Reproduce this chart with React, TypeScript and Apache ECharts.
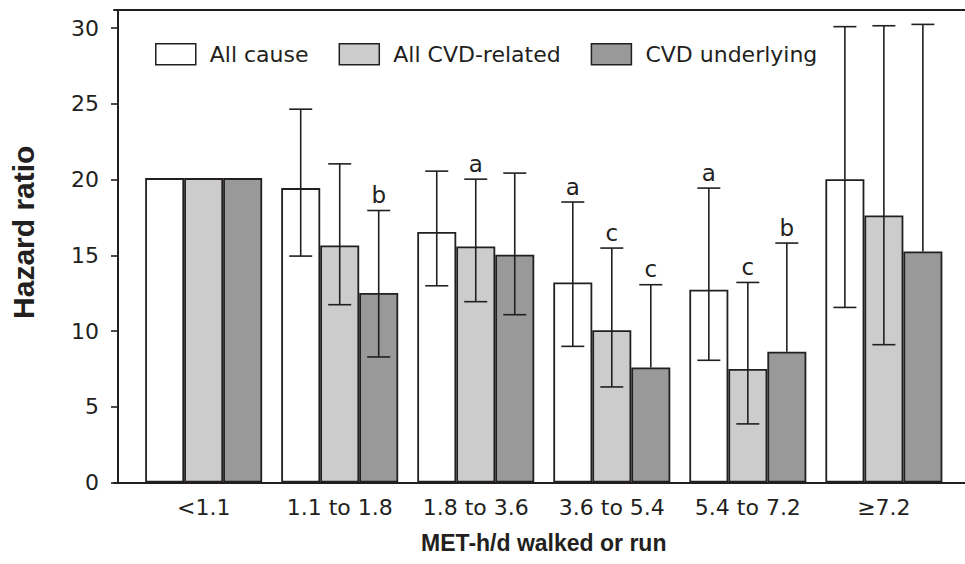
import React, { useEffect, useRef } from "react";
import * as echarts from "echarts";

const categories = ["<1.1", "1.1 to 1.8", "1.8 to 3.6", "3.6 to 5.4", "5.4 to 7.2", "≥7.2"];
const seriesNames = ["All cause", "All CVD-related", "CVD underlying"];

const allCause = [20.1, 19.44, 16.54, 13.21, 12.73, 20.03];
const allCVD = [20.1, 15.65, 15.59, 10.05, 7.5, 17.63];
const cvdUnderlying = [20.1, 12.51, 15.04, 7.59, 8.64, 15.26];

const allCauseLow = [null, 14.95, 12.99, 8.99, 8.07, 11.56];
const allCauseHigh = [null, 24.65, 20.56, 18.52, 19.44, 30.1];
const allCVDLow = [null, 11.74, 11.94, 6.31, 3.87, 9.1];
const allCVDHigh = [null, 21.04, 20.03, 15.48, 13.21, 30.16];
const cvdLow = [null, 8.29, 11.08, null, null, null];
const cvdHigh = [null, 17.96, 20.43, 13.06, 15.81, 30.25];

const allCauseLetters = ["", "", "", "a", "a", ""];
const allCVDLetters = ["", "", "a", "c", "c", ""];
const cvdLetters = ["", "b", "", "c", "b", ""];

const yTicks = [0, 5, 10, 15, 20, 25, 30];

const INK = "#231f20";
const COLORS = ["#ffffff", "#cccccc", "#999999"];
const BAR_W = 39;
const FONT = "DejaVu Sans";

export default function App() {
  const ref = useRef<HTMLDivElement>(null);
  useEffect(() => {
    if (!ref.current) return;
    const chart = echarts.init(ref.current, undefined, { renderer: "svg" });

    const values = [allCause, allCVD, cvdUnderlying];
    const lows = [allCauseLow, allCVDLow, cvdLow];
    const highs = [allCauseHigh, allCVDHigh, cvdHigh];
    const letters = [allCauseLetters, allCVDLetters, cvdLetters];

    const barSeries = values.map((vals, s) => ({
      type: "bar",
      name: seriesNames[s],
      data: vals,
      barWidth: BAR_W,
      barGap: "0%",
      xAxisIndex: 0,
      yAxisIndex: 0,
      itemStyle: { color: COLORS[s], borderColor: INK, borderWidth: 1.8 },
      z: 2,
    }));

    const errSeries = values.map((vals, s) => ({
      type: "custom",
      name: seriesNames[s] + " CI",
      xAxisIndex: 0,
      yAxisIndex: 0,
      z: 5,
      silent: true,
      data: vals.map((v, i) => [i, v, highs[s][i] == null ? v : highs[s][i]]),
      encode: { x: 0, y: [1, 2] },
      renderItem: (params: any, api: any) => {
        const i = params.dataIndex;
        const hi = highs[s][i];
        const lo = lows[s][i];
        const v = vals[i];
        const children: any[] = [];
        const base = api.coord([i, 0]);
        const x = base[0] + (s - 1) * BAR_W;
        const capHalf = 11.5;
        const ls = { stroke: INK, lineWidth: 1.6 };
        if (hi != null) {
          const yHi = api.coord([i, hi])[1];
          const yLo = lo != null ? api.coord([i, lo])[1] : api.coord([i, v])[1];
          children.push({ type: "line", shape: { x1: x, y1: yLo, x2: x, y2: yHi }, style: ls });
          children.push({ type: "line", shape: { x1: x - capHalf, y1: yHi, x2: x + capHalf, y2: yHi }, style: ls });
          if (lo != null) {
            children.push({ type: "line", shape: { x1: x - capHalf, y1: yLo, x2: x + capHalf, y2: yLo }, style: ls });
          }
          const letter = letters[s][i];
          if (letter) {
            children.push({
              type: "text",
              x: x,
              y: yHi - 4,
              style: {
                text: letter,
                fill: INK,
                fontSize: 23,
                fontFamily: FONT,
                align: "center",
                verticalAlign: "bottom",
              },
            });
          }
        }
        return { type: "group", children };
      },
    }));

    const option: any = {
      animation: false,
      backgroundColor: "#ffffff",
      legend: {
        data: seriesNames,
        left: 155,
        top: 43,
        padding: 0,
        itemWidth: 40,
        itemHeight: 21,
        itemGap: 30,
        icon: "rect",
        itemStyle: { borderColor: INK, borderWidth: 1.5 },
        textStyle: { color: INK, fontSize: 22, fontFamily: FONT, padding: [0, 0, 0, 9] },
        selectedMode: false,
      },
      grid: [
        { left: 131.65, right: 13.1, top: 10, bottom: 81.5 },
        { left: 114, right: -5, top: 10, bottom: 81.5 },
      ],
      xAxis: [
        {
          type: "category",
          gridIndex: 0,
          data: categories,
          axisLine: { show: false },
          axisTick: { show: false },
          axisLabel: { color: INK, fontSize: 22, fontFamily: FONT, margin: 14, interval: 0 },
          name: "MET-h/d walked or run",
          nameLocation: "middle",
          nameGap: 49,
          nameTextStyle: { color: INK, fontSize: 23, fontWeight: "bold", fontFamily: "Liberation Sans" },
        },
        {
          type: "value",
          gridIndex: 1,
          min: 0,
          max: 1,
          position: "bottom",
          axisLine: { show: true, lineStyle: { color: INK, width: 2 } },
          axisTick: { show: false },
          axisLabel: { show: false },
          splitLine: { show: false },
        },
        {
          type: "value",
          gridIndex: 1,
          min: 0,
          max: 1,
          position: "top",
          axisLine: { show: true, lineStyle: { color: INK, width: 2 } },
          axisTick: { show: false },
          axisLabel: { show: false },
          splitLine: { show: false },
        },
      ],
      yAxis: [
        {
          type: "value",
          gridIndex: 0,
          min: 0,
          max: 31.2,
          interval: 5,
          offset: 17.65,
          axisLine: { show: true, lineStyle: { color: INK, width: 2 } },
          axisTick: { show: true, length: 7, lineStyle: { color: INK, width: 1.6 }, customValues: yTicks },
          axisLabel: { color: INK, fontSize: 22, fontFamily: FONT, margin: 19, customValues: yTicks },
          splitLine: { show: false },
          name: "Hazard ratio",
          nameLocation: "middle",
          nameGap: 80,
          nameTextStyle: {
            color: INK,
            fontSize: 30,
            fontWeight: "bold",
            fontFamily: "Liberation Sans",
            padding: [0, 0, 0, 28],
          },
        },
        {
          type: "value",
          gridIndex: 1,
          min: 0,
          max: 1,
          show: false,
        },
      ],
      series: [...barSeries, ...errSeries],
    };

    chart.setOption(option);
    return () => chart.dispose();
  }, []);

  return <div ref={ref} style={{ width: 965, height: 564, position: "absolute", left: 0, top: 0 }} />;
}
